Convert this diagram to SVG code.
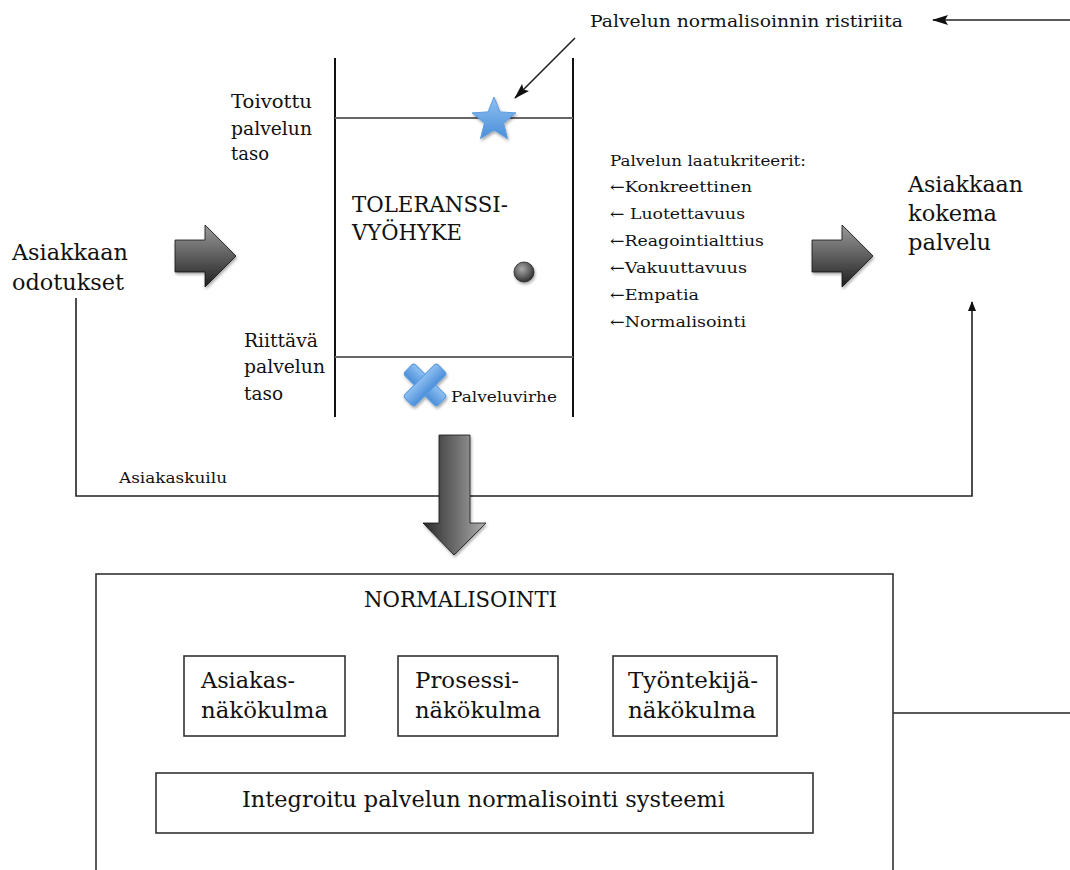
<svg xmlns="http://www.w3.org/2000/svg" width="1070" height="870" viewBox="0 0 1070 870">
<style>
text{font-family:"DejaVu Serif","Liberation Serif",serif;fill:#111}
.lbl{font-size:18.5px}
.big{font-size:22px}
.crit{font-size:15px}
.ln{stroke:#222;stroke-width:1.6;fill:none}
.zone{stroke:#111;stroke-width:2;fill:none}
.lvl{stroke:#666;stroke-width:2.2;fill:none}
.box{fill:#fff;stroke:#333;stroke-width:1.6}
.cond{font-size:22px}
</style>
<defs>
<linearGradient id="gH" x1="0" y1="0" x2="0" y2="1">
<stop offset="0" stop-color="#9a9a9a"/>
<stop offset="0.5" stop-color="#5e5e5e"/>
<stop offset="1" stop-color="#1e1e1e"/>
</linearGradient>
<linearGradient id="gV" x1="0" y1="0" x2="1" y2="0">
<stop offset="0" stop-color="#2a2a2a"/>
<stop offset="0.6" stop-color="#777"/>
<stop offset="1" stop-color="#b0b0b0"/>
</linearGradient>
<linearGradient id="gBlue" x1="0" y1="0" x2="0" y2="1">
<stop offset="0" stop-color="#8fc0f2"/>
<stop offset="1" stop-color="#4b8fd9"/>
</linearGradient>
<radialGradient id="gBall" cx="0.4" cy="0.35" r="0.7">
<stop offset="0" stop-color="#aaa"/>
<stop offset="1" stop-color="#2a2a2a"/>
</radialGradient>
<filter id="sh" x="-30%" y="-30%" width="160%" height="160%">
<feDropShadow dx="1" dy="2" stdDeviation="1.5" flood-color="#000" flood-opacity="0.35"/>
</filter>
<marker id="ah" markerWidth="10" markerHeight="8" refX="9" refY="4" orient="auto" markerUnits="userSpaceOnUse">
<path d="M0,0 L10,4 L0,8 Z" fill="#111"/>
</marker>
<marker id="ahs" markerWidth="16" markerHeight="10" refX="15" refY="5" orient="auto" markerUnits="userSpaceOnUse">
<path d="M0,0 L16,5 L0,10 L3,5 Z" fill="#111"/>
</marker>
</defs>

<g id="connectors">
<polyline class="ln" points="76,298 76,496 972,496 972,302" marker-end="url(#ah)"/>
<line class="ln" x1="1070" y1="20" x2="933" y2="20" marker-end="url(#ahs)"/>
<line class="ln" x1="575" y1="38" x2="515" y2="98" marker-end="url(#ahs)"/>
<line class="ln" x1="893" y1="713" x2="1070" y2="713"/>
</g>

<g id="tolerance-zone">
<line class="zone" x1="335" y1="58" x2="335" y2="417"/>
<line class="zone" x1="573" y1="58" x2="573" y2="417"/>
<line class="lvl" x1="335" y1="118" x2="573" y2="118"/>
<line class="lvl" x1="335" y1="357" x2="573" y2="357"/>
<text x="352" y="212" font-size="21.5" textLength="156" lengthAdjust="spacingAndGlyphs">TOLERANSSI-</text>
<text x="352" y="240" font-size="21.5" textLength="110" lengthAdjust="spacingAndGlyphs">VYÖHYKE</text>
<circle cx="524" cy="272" r="10" fill="url(#gBall)" stroke="#222" stroke-width="0.8" filter="url(#sh)"/>
</g>

<g id="star">
<polygon points="494,97 499.9,111.9 515.9,112.9 503.5,123.1 507.5,138.6 494,130 480.5,138.6 484.5,123.1 472.1,112.9 488.1,111.9" fill="url(#gBlue)" stroke="#5b9be0" stroke-width="1" filter="url(#sh)"/>
</g>

<g id="palveluvirhe">
<g filter="url(#sh)" fill="url(#gBlue)" stroke="#5b9be0" stroke-width="1">
<rect x="401.5" y="377.5" width="47" height="15" rx="3" transform="rotate(45 425 385)"/>
<rect x="401.5" y="377.5" width="47" height="15" rx="3" transform="rotate(-45 425 385)"/>
</g>
<text x="451" y="402" font-size="15" textLength="106" lengthAdjust="spacingAndGlyphs">Palveluvirhe</text>
</g>

<g id="toivottu">
<text class="lbl" x="231" y="108" textLength="81" lengthAdjust="spacingAndGlyphs">Toivottu</text>
<text class="lbl" x="231" y="135" textLength="81" lengthAdjust="spacingAndGlyphs">palvelun</text>
<text class="lbl" x="231" y="160" textLength="38" lengthAdjust="spacingAndGlyphs">taso</text>
</g>

<g id="riittava">
<text class="lbl" x="244" y="347" textLength="74" lengthAdjust="spacingAndGlyphs">Riittävä</text>
<text class="lbl" x="244" y="373" textLength="81" lengthAdjust="spacingAndGlyphs">palvelun</text>
<text class="lbl" x="244" y="400" textLength="39" lengthAdjust="spacingAndGlyphs">taso</text>
</g>

<g id="ristiriita">
<text x="590" y="27" font-size="17" textLength="313" lengthAdjust="spacingAndGlyphs">Palvelun normalisoinnin ristiriita</text>
</g>

<g id="odotukset">
<text class="big" x="12" y="260" textLength="116" lengthAdjust="spacingAndGlyphs">Asiakkaan</text>
<text class="big" x="12" y="290" textLength="112" lengthAdjust="spacingAndGlyphs">odotukset</text>
</g>

<g id="arrow-left">
<path d="M175,240 H205 V225 L236,256 L205,287 V272 H175 Z" fill="url(#gH)" stroke="#111" stroke-width="0.8" filter="url(#sh)"/>
</g>

<g id="arrow-right">
<path d="M812,240 H842 V225 L873,256 L842,287 V272 H812 Z" fill="url(#gH)" stroke="#111" stroke-width="0.8" filter="url(#sh)"/>
</g>

<g id="arrow-down">
<path d="M439,435 H470 V523 H486 L454,555 L423,523 H439 Z" fill="url(#gV)" stroke="#111" stroke-width="0.8" filter="url(#sh)"/>
</g>

<g id="laatukriteerit">
<text class="crit" x="610" y="166" textLength="196" lengthAdjust="spacingAndGlyphs">Palvelun laatukriteerit:</text>
<text class="crit" x="610" y="192" textLength="142" lengthAdjust="spacingAndGlyphs">←Konkreettinen</text>
<text class="crit" x="610" y="219" textLength="135" lengthAdjust="spacingAndGlyphs">← Luotettavuus</text>
<text class="crit" x="610" y="246" textLength="154" lengthAdjust="spacingAndGlyphs">←Reagointialttius</text>
<text class="crit" x="610" y="273" textLength="137" lengthAdjust="spacingAndGlyphs">←Vakuuttavuus</text>
<text class="crit" x="610" y="300" textLength="89" lengthAdjust="spacingAndGlyphs">←Empatia</text>
<text class="crit" x="610" y="327" textLength="136" lengthAdjust="spacingAndGlyphs">←Normalisointi</text>
</g>

<g id="kokema">
<text class="big" x="908" y="192" textLength="115" lengthAdjust="spacingAndGlyphs">Asiakkaan</text>
<text class="big" x="908" y="221" textLength="89" lengthAdjust="spacingAndGlyphs">kokema</text>
<text class="big" x="908" y="250" textLength="83" lengthAdjust="spacingAndGlyphs">palvelu</text>
</g>

<g id="asiakaskuilu">
<text x="119" y="483" font-size="14" textLength="108" lengthAdjust="spacingAndGlyphs">Asiakaskuilu</text>
</g>

<g id="normalisointi">
<rect class="box" x="96" y="574" width="797" height="320"/>
<text x="364" y="607" font-size="22" textLength="193" lengthAdjust="spacingAndGlyphs">NORMALISOINTI</text>
</g>

<g id="asiakas-nakokulma">
<rect class="box" x="184" y="656" width="161" height="80"/>
<text class="cond" x="201" y="688" textLength="94" lengthAdjust="spacingAndGlyphs">Asiakas-</text>
<text class="cond" x="201" y="718" textLength="127" lengthAdjust="spacingAndGlyphs">näkökulma</text>
</g>

<g id="prosessi-nakokulma">
<rect class="box" x="398" y="656" width="160" height="80"/>
<text class="cond" x="415" y="688" textLength="104" lengthAdjust="spacingAndGlyphs">Prosessi-</text>
<text class="cond" x="415" y="718" textLength="126" lengthAdjust="spacingAndGlyphs">näkökulma</text>
</g>

<g id="tyontekija-nakokulma">
<rect class="box" x="613" y="656" width="164" height="80"/>
<text class="cond" x="628" y="688" textLength="130" lengthAdjust="spacingAndGlyphs">Työntekijä-</text>
<text class="cond" x="628" y="718" textLength="128" lengthAdjust="spacingAndGlyphs">näkökulma</text>
</g>

<g id="integroitu">
<rect class="box" x="156" y="773" width="657" height="60"/>
<text class="cond" x="242" y="807" textLength="483" lengthAdjust="spacingAndGlyphs">Integroitu palvelun normalisointi systeemi</text>
</g>
</svg>
